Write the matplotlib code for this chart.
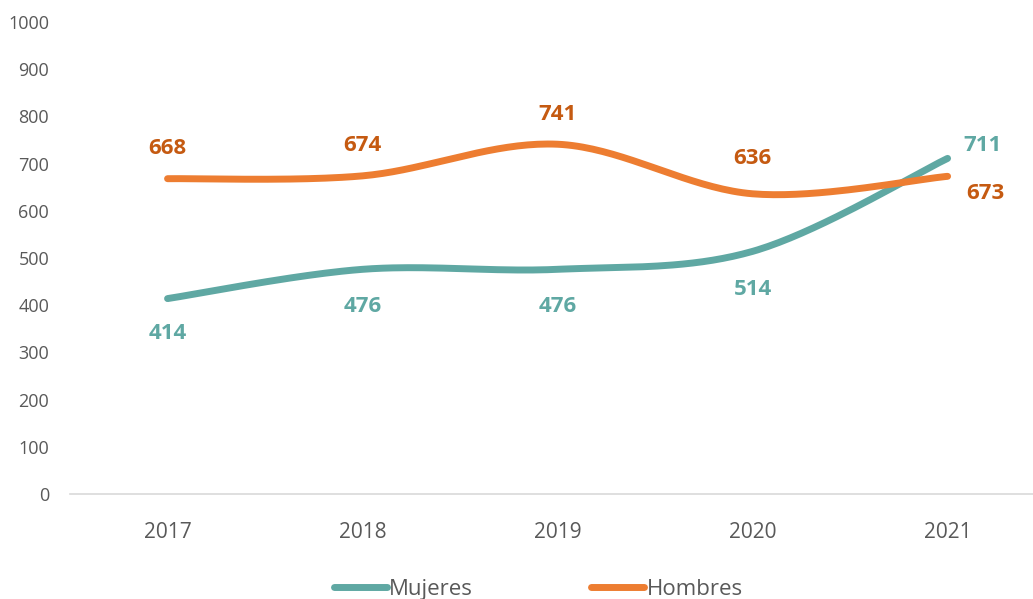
import numpy as np
import matplotlib.pyplot as plt

years = ['2017', '2018', '2019', '2020', '2021']
mujeres = [414, 476, 476, 514, 711]
hombres = [668, 674, 741, 636, 673]

teal = '#5fa8a3'
orange = '#ed7d31'
teal_txt = '#5fa8a3'
orange_txt = '#c55a11'
grey = '#595959'

plt.rcParams['font.family'] = ['Open Sans', 'DejaVu Sans']


def smooth(y, n=40):
    # Excel-like smoothed line (Catmull-Rom bezier)
    y = np.asarray(y, dtype=float)
    x = np.arange(len(y), dtype=float)
    px = np.concatenate([[x[0]], x, [x[-1]]])
    py = np.concatenate([[y[0]], y, [y[-1]]])
    xs, ys = [], []
    for i in range(len(y) - 1):
        p0 = np.array([px[i], py[i]])
        p1 = np.array([px[i + 1], py[i + 1]])
        p2 = np.array([px[i + 2], py[i + 2]])
        p3 = np.array([px[i + 3], py[i + 3]])
        c1 = p1 + (p2 - p0) / 6
        c2 = p2 - (p3 - p1) / 6
        t = np.linspace(0, 1, n)[:, None]
        b = ((1 - t) ** 3) * p1 + 3 * ((1 - t) ** 2) * t * c1 + 3 * (1 - t) * t ** 2 * c2 + t ** 3 * p2
        xs.append(b[:, 0])
        ys.append(b[:, 1])
    return np.concatenate(xs), np.concatenate(ys)


fig = plt.figure(figsize=(10.33, 5.99), dpi=100)
ax = fig.add_axes([0.0678, 0.1753, 0.9322, 0.788])

xm, ym = smooth(mujeres)
xh, yh = smooth(hombres)
ax.plot(xm, ym, color=teal, lw=5, solid_capstyle='round', label='Mujeres')
ax.plot(xh, yh, color=orange, lw=5, solid_capstyle='round', label='Hombres')

ax.set_xlim(-0.5, 4.438)
ax.set_ylim(0, 1000)
ax.set_yticks(range(0, 1001, 100))
ax.set_xticks(range(len(years)))
ax.set_xticklabels(years)

for s in ['top', 'right', 'left']:
    ax.spines[s].set_visible(False)
ax.spines['bottom'].set_color('#d9d9d9')
ax.spines['bottom'].set_linewidth(1.2)
ax.tick_params(axis='both', length=0, colors=grey, labelsize=13)
ax.tick_params(axis='x', pad=20, labelsize=15)
ax.tick_params(axis='y', pad=15)

# data labels
m_off = [(0, -35), (0, -37), (0, -37), (0, -38), (35, 13)]
h_off = [(0, 30), (0, 30), (0, 30), (0, 35), (38, -17)]
for i in range(len(years)):
    ax.annotate(str(mujeres[i]), (i, mujeres[i]), xytext=m_off[i], textcoords='offset pixels',
                ha='center', va='center', color=teal_txt, fontsize=16, fontweight='bold')
    ax.annotate(str(hombres[i]), (i, hombres[i]), xytext=h_off[i], textcoords='offset pixels',
                ha='center', va='center', color=orange_txt, fontsize=16, fontweight='bold')

leg = fig.legend(loc='lower center', bbox_to_anchor=(0.521, -0.035), ncol=2, frameon=False,
                 fontsize=16, handlelength=2.4, handletextpad=0.1, columnspacing=5.3)
for t in leg.get_texts():
    t.set_color(grey)

fig.savefig('out.png', dpi=100)
